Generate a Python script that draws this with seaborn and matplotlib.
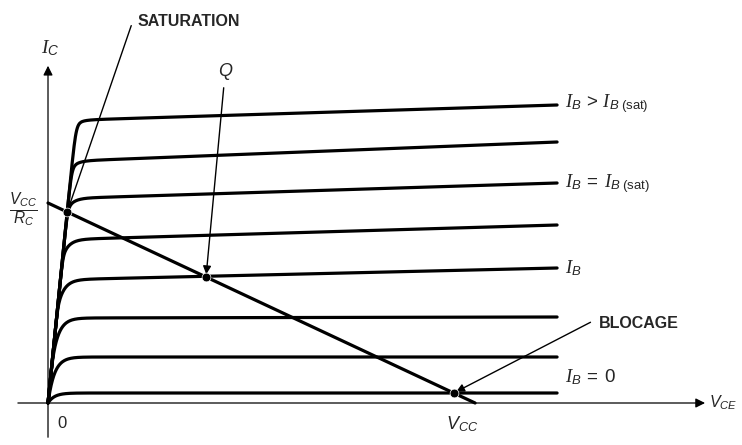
import numpy as np
import pandas as pd
import matplotlib.pyplot as plt
import seaborn as sns

sns.set_theme(style="white")
plt.rcParams['font.family'] = ['Liberation Sans', 'DejaVu Sans']
plt.rcParams['mathtext.fontset'] = 'custom'
plt.rcParams['mathtext.it'] = 'Liberation Serif:italic'
plt.rcParams['mathtext.sf'] = 'Liberation Sans:italic'
plt.rcParams['mathtext.rm'] = 'Liberation Sans'

# circuit values (arbitrary units: V_CC = 10, V_CC/R_C = 10)
v_cc = 10.0
i_csat = 10.0
v_ce_end = 11.92           # where the drawn characteristics stop
sat_slope = 0.047          # V_CE per unit of I_C along the saturation trunk
knee_tau = 0.15            # softness of the knee near the origin

# collector current plateau of each I_B curve, at V_CE = 0 and at the right end
plateau_start = [14.1, 12.05, 10.2, 8.15, 6.15, 4.25, 2.3, 0.5]
plateau_end = [14.9, 13.05, 11.0, 8.9, 6.75, 4.3, 2.3, 0.5]

q_vce = 3.7  # operating point on the load line

# curve labels on the right
curve_labels = [r'$I_{\mathsf{B}}\; >\, I_{\mathsf{B}\ \mathrm{(sat)}}$',
                r'$I_{\mathsf{B}}\; =\; I_{\mathsf{B}\ \mathrm{(sat)}}$',
                r'$I_{\mathsf{B}}$',
                r'$I_{\mathsf{B}}\; =\; 0$']
label_pos = [(12.1, 14.95), (12.1, 10.95), (12.1, 6.75), (12.1, 1.3)]

# build the characteristic curves
v = np.concatenate([[0.0], np.linspace(1e-4, v_ce_end, 800)])
rows = []
for k, (ps, pe) in enumerate(zip(plateau_start, plateau_end)):
    p = ps + (pe - ps) * v / v_ce_end
    b = p * (1 - np.exp(-v / knee_tau))
    a = v / sat_slope
    n = 20
    with np.errstate(divide='ignore'):
        ic = np.where(v > 0, (a ** -n + b ** -n) ** (-1.0 / n), 0.0)
    rows.append(pd.DataFrame({'V_CE': v, 'I_C': ic, 'curve': k}))
df = pd.concat(rows, ignore_index=True)

fig = plt.figure(figsize=(7.42, 4.45), dpi=100)
ax = fig.add_axes([0, 0, 1, 1])
ax.set_xlim(-1.124, 16.25)
ax.set_ylim(-2.1, 20.15)
ax.axis('off')

sns.lineplot(data=df, x='V_CE', y='I_C', units='curve', estimator=None,
             sort=False, color='black', lw=2.3, ax=ax, legend=False)

# load line
load = pd.DataFrame({'V_CE': [0, v_cc], 'I_C': [i_csat, 0]})
sns.lineplot(data=load, x='V_CE', y='I_C', color='black', lw=2.3, ax=ax)

# special points
sat_i = i_csat / (1 + sat_slope * i_csat / v_cc)
sat_v = sat_slope * sat_i
q_i = i_csat * (1 - q_vce / v_cc)
blk_i = plateau_end[-1]
blk_v = v_cc * (1 - blk_i / i_csat)
pts = pd.DataFrame({'V_CE': [sat_v, q_vce, blk_v], 'I_C': [sat_i, q_i, blk_i]})
sns.scatterplot(data=pts, x='V_CE', y='I_C', color='black', s=40, ax=ax, zorder=5)

# axes with arrows
arw = dict(arrowstyle='-|>', color='black', lw=0.9, mutation_scale=14)
ax.annotate('', xy=(15.45, 0), xytext=(-0.77, 0), arrowprops=arw)
ax.annotate('', xy=(0, 17.0), xytext=(0, -1.85), arrowprops=arw)

ax.text(0.05, 17.75, r'$I_{\mathsf{C}}$', fontsize=14, ha='center', va='center')
ax.text(15.48, 0, r'$\mathsf{V}_{\mathsf{CE}}$', fontsize=11.5, ha='left', va='center')
ax.text(0.33, -0.65, '0', fontsize=12, ha='center', va='top')
ax.text(9.7, -0.55, r'$\mathsf{V}_{\mathsf{CC}}$', fontsize=13, ha='center', va='top')
ax.text(-0.58, 9.65, r'$\frac{\mathsf{V}_{\mathsf{CC}}}{\mathsf{R}_{\mathsf{C}}}$',
        fontsize=16, ha='center', va='center')

for txt, (x, y) in zip(curve_labels, label_pos):
    ax.text(x, y, txt, fontsize=13.5, ha='left', va='center')

# pointers
ax.text(2.1, 19.05, 'SATURATION', fontsize=11.5, fontweight='bold', ha='left', va='center')
ax.annotate('', xy=(sat_v, sat_i), xytext=(1.97, 19.0),
            arrowprops=dict(arrowstyle='-', color='black', lw=1.0))

ax.text(4.17, 16.6, r'$\mathsf{Q}$', fontsize=13, ha='center', va='center')
ax.annotate('', xy=(q_vce, q_i), xytext=(4.12, 15.9),
            arrowprops=dict(arrowstyle='-|>', color='black', lw=1.0, mutation_scale=12))

ax.text(12.9, 4.0, 'BLOCAGE', fontsize=11.5, fontweight='bold', ha='left', va='center')
ax.annotate('', xy=(blk_v, blk_i), xytext=(12.76, 4.1),
            arrowprops=dict(arrowstyle='-|>', color='black', lw=1.0, mutation_scale=12))

fig.savefig('out.png', dpi=100)
